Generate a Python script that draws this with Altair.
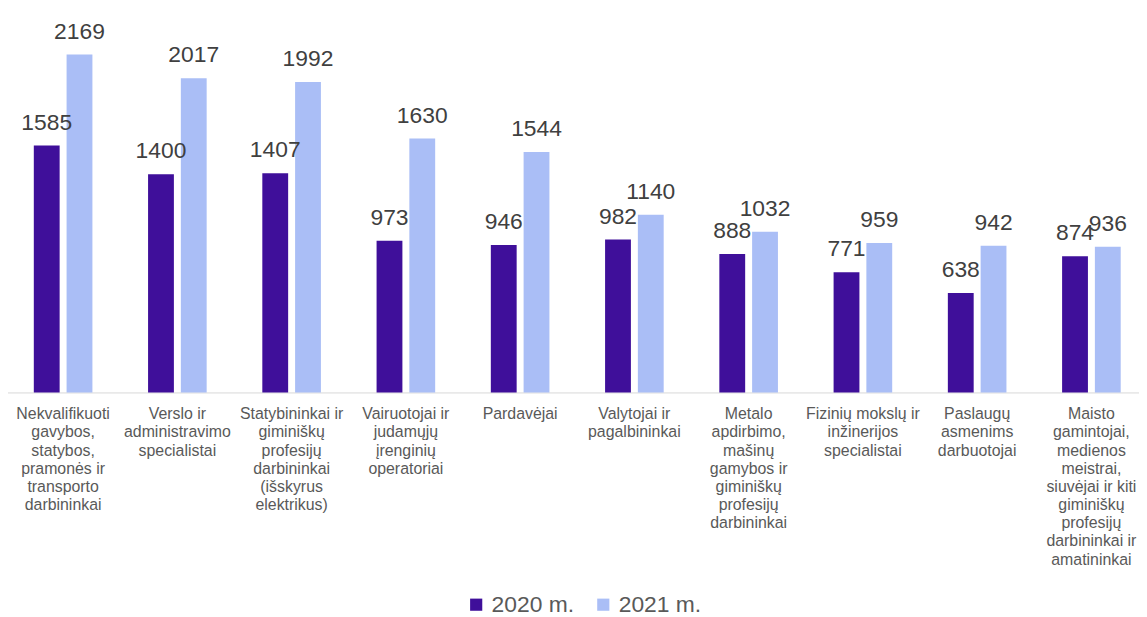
import altair as alt
import pandas as pd

categories = [
    "Nekvalifikuoti\ngavybos,\nstatybos,\npramonės ir\ntransporto\ndarbininkai",
    "Verslo ir\nadministravimo\nspecialistai",
    "Statybininkai ir\ngiminiškų\nprofesijų\ndarbininkai\n(išskyrus\nelektrikus)",
    "Vairuotojai ir\njudamųjų\nįrenginių\noperatoriai",
    "Pardavėjai",
    "Valytojai ir\npagalbininkai",
    "Metalo\napdirbimo,\nmašinų\ngamybos ir\ngiminiškų\nprofesijų\ndarbininkai",
    "Fizinių mokslų ir\ninžinerijos\nspecialistai",
    "Paslaugų\nasmenims\ndarbuotojai",
    "Maisto\ngamintojai,\nmedienos\nmeistrai,\nsiuvėjai ir kiti\ngiminiškų\nprofesijų\ndarbininkai ir\namatininkai",
]
years = ["2020 m.", "2021 m."]
values_2020 = [1585, 1400, 1407, 973, 946, 982, 888, 771, 638, 874]
values_2021 = [2169, 2017, 1992, 1630, 1544, 1140, 1032, 959, 942, 936]
colors = ["#3F0F9A", "#AABEF6"]

rows = []
for c, a, b in zip(categories, values_2020, values_2021):
    rows.append({"cat": c, "year": years[0], "value": a})
    rows.append({"cat": c, "year": years[1], "value": b})
df = pd.DataFrame(rows)
cat_df = pd.DataFrame({"cat": categories})

FONT = "Liberation Sans"
x_enc = alt.X("cat:N", sort=categories,
              scale=alt.Scale(range=[-2.03, 1148.6], paddingInner=0, paddingOuter=0),
              axis=alt.Axis(labels=False, ticks=False, title=None, domainColor="#D9D9D9",
                            domainWidth=1, grid=False))
xoff = alt.XOffset("year:N", sort=years,
                   scale=alt.Scale(paddingInner=0.212, paddingOuter=0.849))
y_enc = alt.Y("value:Q", scale=alt.Scale(domain=[0, 2454], nice=False), axis=None)

bars = alt.Chart(df).mark_bar().encode(
    x=x_enc, xOffset=xoff, y=y_enc,
    color=alt.Color("year:N", sort=years,
                    scale=alt.Scale(domain=years, range=colors),
                    legend=alt.Legend(title=None, orient="none", legendX=460, legendY=587,
                                      direction="horizontal", symbolType="square",
                                      symbolSize=150, symbolStrokeWidth=0,
                                      labelFontSize=23, labelFont=FONT, labelColor="#595959",
                                      labelOffset=4, columnPadding=17)),
)

labels = alt.Chart(df).mark_text(
    baseline="alphabetic", dy=-16, fontSize=23, font=FONT, color="#404040"
).encode(x=x_enc, xOffset=xoff, y=y_enc, text="value:Q")

cat_text = alt.Chart(cat_df).mark_text(
    baseline="alphabetic", align="center", fontSize=16, font=FONT, color="#595959",
    lineBreak="\n", lineHeight=18.3
).encode(x=x_enc, y=alt.value(412), text="cat:N")

chart = alt.layer(bars, labels, cat_text).properties(
    width=1139, height=385,
    autosize=alt.AutoSizeParams(type="none"),
    padding={"left": 0, "top": 0, "right": 0, "bottom": 226},
).configure_view(stroke=None)

chart.save("out.html", embed_options={"renderer": "svg", "actions": False})
